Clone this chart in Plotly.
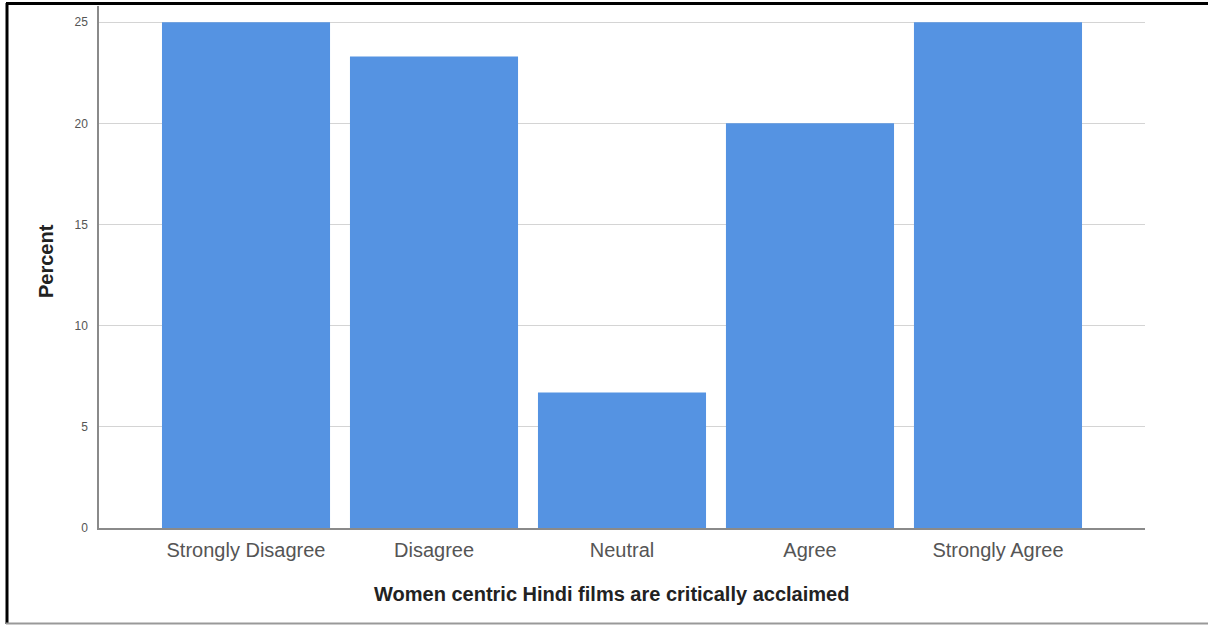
import plotly.graph_objects as go

# Survey responses (percent of respondents)
categories = ["Strongly Disagree", "Disagree", "Neutral", "Agree", "Strongly Agree"]
percent = [25.0, 23.3, 6.7, 20.0, 25.0]
y_ticks = [0, 5, 10, 15, 20, 25]
x_title = "Women centric Hindi films are critically acclaimed"
y_title = "Percent"

W, H = 1208, 625
M = dict(l=99, r=63, t=6, b=97)
pw = W - M["l"] - M["r"]
ph = H - M["t"] - M["b"]

def px_x(x):
    return (x - M["l"]) / pw

def px_y(y):
    return (H - M["b"] - y) / ph

fig = go.Figure(
    go.Bar(
        x=categories,
        y=percent,
        width=0.894,
        marker=dict(color="#5593e2", line=dict(width=0)),
    )
)

fig.update_layout(
    width=W,
    height=H,
    margin=M,
    paper_bgcolor="white",
    plot_bgcolor="white",
    showlegend=False,
    font=dict(family="Liberation Sans, Arial, sans-serif", color="#444"),
    xaxis=dict(
        range=[-0.782, 4.782],
        showgrid=False,
        showline=True,
        linecolor="#8a8a8a",
        linewidth=1.5,
        ticks="",
        ticklabelstandoff=3,
        tickfont=dict(size=20, color="#555"),
    ),
    yaxis=dict(
        range=[0, 25.8],
        tickvals=y_ticks,
        showgrid=True,
        gridcolor="#d4d4d4",
        gridwidth=1,
        zeroline=False,
        showline=True,
        linecolor="#8a8a8a",
        linewidth=1.5,
        ticks="",
        ticklabelstandoff=7,
        tickfont=dict(size=12, color="#555"),
    ),
    annotations=[
        dict(text=f"<b>{x_title}</b>", xref="paper", yref="paper",
             x=px_x(611), y=px_y(594), xanchor="center", yanchor="middle",
             showarrow=False, font=dict(size=20, color="#222")),
        dict(text=f"<b>{y_title}</b>", xref="paper", yref="paper",
             x=px_x(46), y=px_y(261), xanchor="center", yanchor="middle",
             textangle=-90, showarrow=False, font=dict(size=20, color="#222")),
    ],
    shapes=[
        # outer frame: left and top black, bottom gray
        dict(type="line", xref="paper", yref="paper",
             x0=px_x(7), x1=px_x(7), y0=px_y(3), y1=px_y(624),
             line=dict(color="black", width=3)),
        dict(type="line", xref="paper", yref="paper",
             x0=px_x(6), x1=px_x(1208), y0=px_y(3.5), y1=px_y(3.5),
             line=dict(color="black", width=3)),
        dict(type="line", xref="paper", yref="paper",
             x0=px_x(6), x1=px_x(1208), y0=px_y(623.5), y1=px_y(623.5),
             line=dict(color="#999", width=2)),
    ],
)

fig.write_html("out.html")
